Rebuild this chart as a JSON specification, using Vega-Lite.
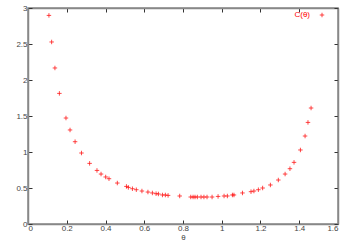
{
  "$schema": "https://vega.github.io/schema/vega-lite/v6.json",
  "width": 310,
  "height": 216,
  "autosize": {"type": "none"},
  "padding": {"left": 28, "top": 8, "right": 12, "bottom": 21},
  "config": {
    "font": "Liberation Sans",
    "view": {"stroke": "#888888", "strokeWidth": 1.5},
    "axis": {
      "grid": false,
      "domainColor": "#888888",
      "domainWidth": 1.5,
      "tickColor": "#333333",
      "tickSize": -4,
      "labelFontSize": 8,
      "labelColor": "#444444",
      "titleFontSize": 8,
      "titleFontWeight": "normal",
      "titleColor": "#444444"
    }
  },
  "data": {
    "values": [
      {"theta": 0.108, "C": 2.897}, {"theta": 0.122, "C": 2.528}, {"theta": 0.139, "C": 2.167},
      {"theta": 0.162, "C": 1.814}, {"theta": 0.196, "C": 1.472}, {"theta": 0.217, "C": 1.306},
      {"theta": 0.243, "C": 1.143}, {"theta": 0.276, "C": 0.986}, {"theta": 0.318, "C": 0.842},
      {"theta": 0.356, "C": 0.744}, {"theta": 0.377, "C": 0.694}, {"theta": 0.401, "C": 0.653},
      {"theta": 0.418, "C": 0.629}, {"theta": 0.461, "C": 0.569}, {"theta": 0.508, "C": 0.522},
      {"theta": 0.518, "C": 0.508}, {"theta": 0.539, "C": 0.49}, {"theta": 0.559, "C": 0.476},
      {"theta": 0.588, "C": 0.458}, {"theta": 0.619, "C": 0.444}, {"theta": 0.642, "C": 0.431},
      {"theta": 0.661, "C": 0.421}, {"theta": 0.673, "C": 0.417}, {"theta": 0.694, "C": 0.403},
      {"theta": 0.709, "C": 0.403}, {"theta": 0.723, "C": 0.397}, {"theta": 0.783, "C": 0.389},
      {"theta": 0.84, "C": 0.375}, {"theta": 0.852, "C": 0.375}, {"theta": 0.862, "C": 0.375},
      {"theta": 0.874, "C": 0.375}, {"theta": 0.893, "C": 0.375}, {"theta": 0.908, "C": 0.375},
      {"theta": 0.924, "C": 0.375}, {"theta": 0.95, "C": 0.375}, {"theta": 0.981, "C": 0.383},
      {"theta": 1.012, "C": 0.389}, {"theta": 1.029, "C": 0.389}, {"theta": 1.055, "C": 0.403},
      {"theta": 1.063, "C": 0.403}, {"theta": 1.107, "C": 0.431}, {"theta": 1.151, "C": 0.449},
      {"theta": 1.166, "C": 0.458}, {"theta": 1.189, "C": 0.476}, {"theta": 1.211, "C": 0.5},
      {"theta": 1.251, "C": 0.542}, {"theta": 1.292, "C": 0.611}, {"theta": 1.327, "C": 0.694},
      {"theta": 1.352, "C": 0.768}, {"theta": 1.373, "C": 0.856}, {"theta": 1.406, "C": 1.028},
      {"theta": 1.43, "C": 1.222}, {"theta": 1.445, "C": 1.411}, {"theta": 1.461, "C": 1.611}
    ]
  },
  "layer": [
    {
      "mark": {
        "type": "point",
        "shape": "M-1,0H1M0,-1V1",
        "size": 20,
        "filled": false,
        "strokeWidth": 0.8,
        "opacity": 0.9
      },
      "encoding": {
        "x": {
          "field": "theta", "type": "quantitative",
          "scale": {"domain": [0, 1.6], "nice": false, "zero": false},
          "axis": {"orient": "bottom", "values": [0, 0.2, 0.4, 0.6, 0.8, 1, 1.2, 1.4, 1.6], "format": "~g", "title": "θ", "labelPadding": 4, "titlePadding": 1}
        },
        "y": {
          "field": "C", "type": "quantitative",
          "scale": {"domain": [0, 3], "nice": false, "zero": false},
          "axis": {"orient": "left", "values": [0, 0.5, 1, 1.5, 2, 2.5, 3], "format": "~g", "title": null, "labelPadding": 5}
        },
        "color": {
          "datum": "C(θ)",
          "type": "nominal",
          "scale": {"range": ["#ff0000"]},
          "legend": {
            "title": null,
            "orient": "none",
            "legendX": 287,
            "legendY": 0,
            "padding": 3,
            "labelColor": "#ff0000",
            "labelFontSize": 8,
            "labelAlign": "right",
            "labelOffset": -16,
            "symbolType": "M-1,0H1M0,-1V1",
            "symbolSize": 20,
            "symbolStrokeWidth": 0.8,
            "symbolStrokeColor": "#ff0000"
          }
        }
      }
    },
    {
      "mark": {"type": "point", "opacity": 0},
      "encoding": {
        "x": {
          "field": "theta", "type": "quantitative",
          "axis": {"orient": "top", "values": [0, 0.2, 0.4, 0.6, 0.8, 1, 1.2, 1.4, 1.6], "labels": false, "title": null}
        },
        "y": {
          "field": "C", "type": "quantitative",
          "axis": {"orient": "right", "values": [0, 0.5, 1, 1.5, 2, 2.5, 3], "labels": false, "title": null}
        }
      }
    }
  ]
}
